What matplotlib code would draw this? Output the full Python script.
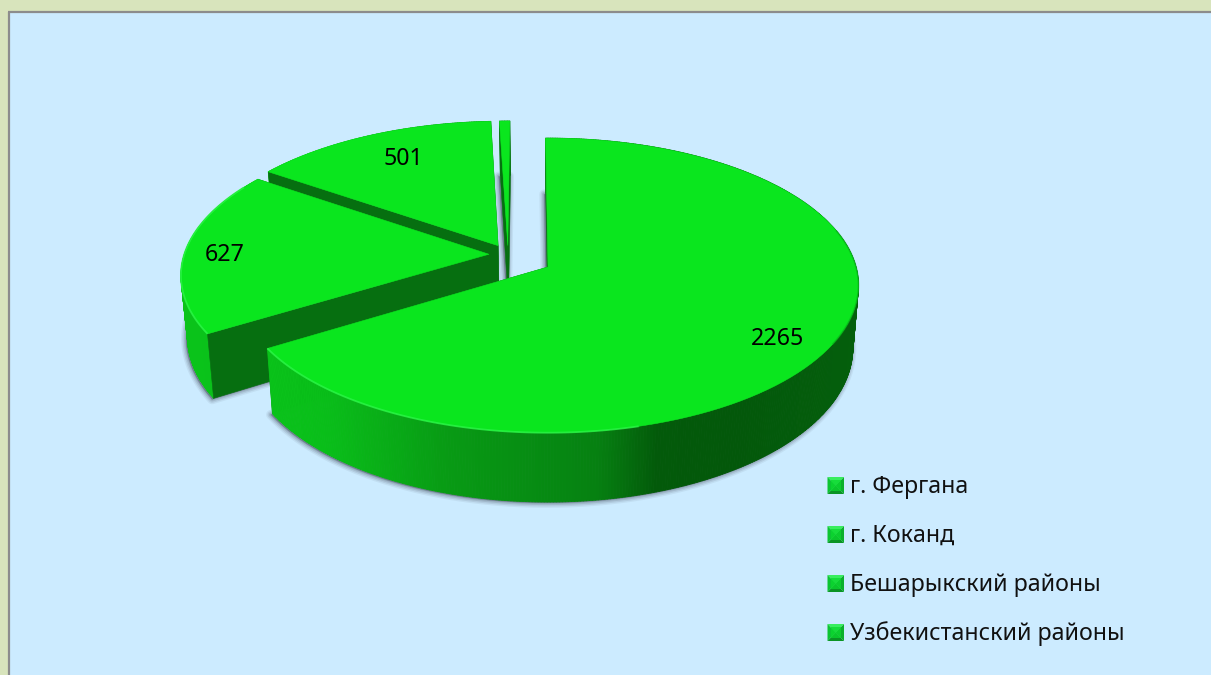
import numpy as np
import matplotlib
matplotlib.use("Agg")
import matplotlib.pyplot as plt
from matplotlib.patches import Polygon, Rectangle

categories = ["г. Фергана", "г. Коканд", "Бешарыкский районы", "Узбекистанский районы"]
values = [2265, 627, 501, 21]
shown_labels = ["2265", "627", "501", None]

# style / layout
explode = [(0.0, 0.0), (-0.194, -0.089), (-0.165, -0.15), (-0.133, -0.152)]
label_pos = [(778, 339), (225, 255), (403, 159), None]
legend_y = [486, 535, 584, 633]
start_deg = -0.5
TOP = dict(cx=548, cy=267, rx=308, ry=145, p=0.125)
BOT = dict(cx=548, cy=328.3, rx=302.5, ry=152, p=0.125)
C_BG, C_OUT = "#CCEBFF", "#D8E4BC"
C_TOP, C_RIM, C_IN = "#0AE61E", "#2CF548", "#066F10"
wall_x = [0.0, 0.10, 0.30, 0.50, 0.56, 0.66, 0.80, 1.0]
wall_r = [10, 9, 8, 6, 6, 3, 3, 4]
wall_g = [195, 190, 155, 135, 128, 90, 88, 95]
wall_b = [26, 25, 20, 18, 17, 10, 10, 12]


def project(u, v, g):
    s = 1.0 / (1.0 - g["p"] * v)
    return g["cx"] + g["rx"] * u * s, g["cy"] + g["ry"] * v * s


def arc(a0, a1, off, g, n=120):
    t = np.radians(np.linspace(a0, a1, n))
    return project(off[0] + np.sin(t), off[1] - np.cos(t), g)


def poly(ax, x, y, color, **kw):
    kw.setdefault("lw", 0.4)
    kw.setdefault("ec", color)
    ax.add_patch(Polygon(np.column_stack([x, y]), closed=True, fc=color, joinstyle="round", **kw))


fig = plt.figure(figsize=(12.11, 6.75), dpi=100, facecolor=C_OUT)
ax = fig.add_axes([0, 0, 1, 1])
ax.set_xlim(0, 1211)
ax.set_ylim(675, 0)
ax.axis("off")

ax.add_patch(Rectangle((8, 12), 1203, 663, fc=C_BG, ec="none"))
ax.plot([9, 9], [675, 12], color="#8C8C8C", lw=1.6, solid_capstyle="butt")
ax.plot([8, 1211], [12, 12], color="#8C8C8C", lw=1.6, solid_capstyle="butt")

bounds = start_deg + np.concatenate([[0], np.cumsum(values)]) / np.sum(values) * 360.0
slices = [(bounds[i], bounds[i + 1], explode[i]) for i in range(len(values))]

# soft shadow under the body
for a0, a1, off in slices:
    bx, by = arc(a0, a1, off, BOT)
    ax0, ay0 = project(off[0], off[1], BOT)
    px = np.r_[ax0, bx] - 1.5
    py = np.r_[ay0, by] + 1
    for w, al in [(7, 0.08), (5, 0.12), (3, 0.16), (1.2, 0.2)]:
        ax.add_patch(Polygon(np.column_stack([px, py]), closed=True, fc="#46505F", ec="#46505F",
                             alpha=al, lw=w, joinstyle="round"))


def inner_walls(a0, a1, off):
    tx0, ty0 = project(off[0], off[1], TOP)
    bx0, by0 = project(off[0], off[1], BOT)
    for ang in (a0, a1):
        rx_, ry_ = arc(ang, ang, off, TOP, 1)
        rbx, rby = arc(ang, ang, off, BOT, 1)
        poly(ax, [tx0, rx_[0], rbx[0], bx0], [ty0, ry_[0], rby[0], by0], C_IN)


# painter's order: back slices first
for a0, a1, off in [slices[3], slices[2], slices[1], slices[0]]:
    big = (a1 - a0) > 180
    if big:
        inner_walls(a0, a1, off)
    n = max(int(a1 - a0) * 2, 4)
    edges = np.linspace(a0, a1, n + 1)
    for e0, e1 in zip(edges[:-1], edges[1:]):
        xt, yt = arc(e0, e1, off, TOP, 4)
        xb, yb = arc(e0, e1, off, BOT, 4)
        f = np.clip((xt.mean() - 268) / (858 - 268), 0, 1)
        col = (np.interp(f, wall_x, wall_r) / 255, np.interp(f, wall_x, wall_g) / 255, np.interp(f, wall_x, wall_b) / 255)
        poly(ax, np.r_[xt, xb[::-1]], np.r_[yt, yb[::-1]], col, lw=0.6)
    if not big:
        inner_walls(a0, a1, off)
    tx0, ty0 = project(off[0], off[1], TOP)
    xt, yt = arc(a0, a1, off, TOP)
    poly(ax, np.r_[tx0, xt], np.r_[ty0, yt], C_TOP)
    lo, hi = max(a0, 165), min(a1, 300)
    if hi > lo:
        xr, yr = arc(lo, hi, off, TOP)
        ax.plot(xr, yr, color=C_RIM, lw=1.3, alpha=0.8, solid_capstyle="butt")
    lo, hi = max(a0, 75), min(a1, 120)
    if hi > lo:
        xr, yr = arc(lo, hi, off, TOP)
        ax.plot(xr, yr, color="#07A818", lw=1.2, alpha=0.5, solid_capstyle="butt")

font = ["Noto Sans", "DejaVu Sans"]
fs = 16.7
for lab, pos in zip(shown_labels, label_pos):
    if lab:
        ax.text(pos[0], pos[1], lab, ha="center", va="center", fontsize=fs, family=font, color="black")

for name, y in zip(categories, legend_y):
    x0, x1, y0, y1, xm, ym = 827.5, 844, y - 9, y + 8, 835.75, y - 0.5
    ax.add_patch(Polygon([(x0, y0), (x1, y0), (xm, ym)], fc="#38EE5E", ec="none"))
    ax.add_patch(Polygon([(x0, y0), (x0, y1), (xm, ym)], fc="#0CC432", ec="none"))
    ax.add_patch(Polygon([(x1, y0), (x1, y1), (xm, ym)], fc="#0BB02C", ec="none"))
    ax.add_patch(Polygon([(x0, y1), (x1, y1), (xm, ym)], fc="#0A9424", ec="none"))
    ax.add_patch(Rectangle((x0 + 3, y0 + 3), x1 - x0 - 6, y1 - y0 - 6, fc="#0BD82E", ec="none", alpha=0.75))
    ax.text(850, y + 1, name, ha="left", va="center", fontsize=fs, family=font, color="#111111")

fig.savefig("out.png", dpi=100, facecolor=C_OUT)
